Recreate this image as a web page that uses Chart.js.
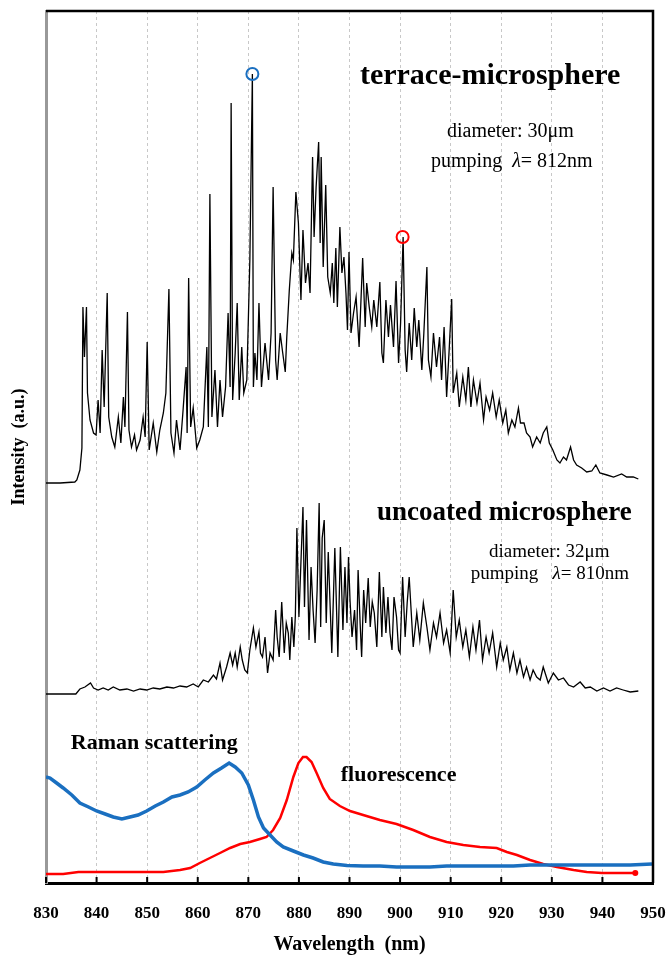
<!DOCTYPE html>
<html lang="en">
<head>
    <meta charset="UTF-8">
    <title>Microsphere emission spectra</title>
    <script src="https://cdn.jsdelivr.net/npm/chart.js@4.4.0/dist/chart.umd.min.js"></script>
    <style>
        body { margin: 0; background: #ffffff; }
    </style>
</head>
<body>

<div style="width: 668px;height: 958px">
    <canvas id="myChart" width="668" height="958"></canvas>
</div>

<script type="text/javascript">

    // wavelength axis (nm)
    var xTicks = [830, 840, 850, 860, 870, 880, 890, 900, 910, 920, 930, 940, 950];

    // terrace-microsphere spectrum (top, offset trace)
    var terraceX = [830.0, 832.8, 835.7, 836.1, 836.7, 837.1, 837.3, 837.6, 838.0, 838.2,
        838.7, 839.4, 839.9, 840.3, 840.7, 841.1, 841.5, 842.1, 842.4, 843.0,
        843.6, 844.3, 844.8, 845.3, 845.6, 846.1, 846.4, 846.9, 847.5, 847.9,
        848.6, 849.2, 849.6, 850.0, 850.4, 851.2, 851.9, 852.5, 853.2, 853.7,
        854.3, 854.7, 855.3, 855.8, 856.5, 857.1, 857.7, 857.9, 858.2, 858.6,
        859.1, 859.8, 860.4, 861.1, 861.8, 862.1, 862.4, 862.8, 863.4, 863.9,
        864.4, 864.9, 865.5, 866.0, 866.4, 866.6, 866.9, 867.4, 867.8, 868.2,
        868.7, 869.1, 869.7, 870.3, 870.8, 871.0, 871.3, 871.7, 872.1, 872.6,
        873.3, 874.0, 874.5, 874.9, 875.4, 875.7, 876.3, 876.8, 877.3, 877.6,
        878.1, 878.6, 878.9, 879.4, 879.9, 880.4, 880.8, 881.3, 881.8, 882.2,
        882.7, 883.0, 883.4, 883.9, 884.2, 884.4, 884.8, 885.3, 885.7, 886.2,
        886.6, 886.9, 887.3, 887.6, 888.1, 888.5, 888.9, 889.3, 889.6, 889.9,
        890.3, 890.8, 891.3, 891.9, 892.6, 893.1, 893.4, 893.9, 894.4, 894.8,
        895.4, 896.0, 896.4, 896.7, 897.2, 897.7, 898.1, 898.7, 899.2, 899.7,
        900.1, 900.6, 901.0, 901.3, 901.8, 902.3, 902.8, 903.3, 903.7, 904.3,
        904.7, 905.3, 905.6, 906.1, 906.6, 907.2, 907.8, 908.2, 908.7, 909.2,
        909.7, 910.2, 910.5, 911.2, 911.7, 912.4, 913.0, 913.5, 914.0, 914.5,
        915.2, 915.8, 916.5, 917.0, 917.7, 918.3, 919.0, 919.6, 920.3, 920.9,
        921.4, 922.1, 922.7, 923.4, 923.8, 924.5, 925.0, 925.7, 926.2, 927.0,
        927.7, 928.3, 929.0, 929.5, 930.2, 931.0, 931.6, 932.3, 932.9, 933.7,
        934.3, 934.9, 935.9, 936.9, 937.9, 938.7, 939.5, 940.9, 942.2, 943.8,
        944.8, 946.1, 947.1];
    var terraceY = [400, 400, 401, 403, 413, 435, 576, 526, 576, 490,
        463, 450, 448, 483, 450, 533, 476, 590, 466, 446,
        436, 466, 440, 486, 456, 571, 453, 436, 448, 433,
        443, 466, 446, 541, 433, 460, 431, 453, 470, 490,
        594, 450, 430, 463, 433, 473, 516, 450, 605, 456,
        475, 435, 443, 456, 536, 456, 689, 466, 513, 456,
        503, 466, 496, 570, 496, 780, 483, 530, 580, 483,
        536, 490, 503, 623, 809, 496, 530, 503, 580, 496,
        540, 503, 550, 696, 523, 503, 550, 530, 511, 546,
        593, 630, 623, 691, 660, 583, 653, 600, 620, 590,
        726, 646, 696, 741, 640, 726, 616, 698, 606, 590,
        620, 580, 635, 576, 656, 610, 626, 590, 553, 631,
        550, 570, 586, 536, 625, 556, 600, 576, 556, 583,
        556, 601, 530, 520, 583, 546, 578, 536, 602, 520,
        560, 646, 533, 511, 560, 523, 575, 536, 563, 513,
        550, 616, 523, 506, 550, 516, 546, 503, 556, 486,
        533, 584, 490, 510, 476, 506, 483, 516, 476, 503,
        480, 500, 463, 486, 473, 490, 466, 483, 460, 473,
        450, 463, 456, 475, 460, 460, 450, 446, 436, 446,
        440, 450, 456, 440, 433, 423, 420, 426, 423, 436,
        423, 418, 415, 411, 412, 418, 410, 408, 406, 409,
        406, 406, 404];

    // uncoated microsphere spectrum (middle trace)
    var uncoatedX = [830.0, 832.8, 835.9, 836.7, 837.7, 838.8, 839.4, 840.3, 841.3, 842.3,
        843.3, 844.6, 846.0, 847.3, 848.6, 849.9, 851.2, 852.5, 853.9, 855.2,
        856.5, 857.8, 859.1, 860.1, 861.1, 862.1, 863.1, 863.7, 864.4, 864.9,
        865.7, 866.4, 866.9, 867.4, 867.8, 868.4, 868.8, 869.3, 869.8, 870.3,
        871.0, 871.5, 872.1, 872.4, 872.8, 873.3, 873.8, 874.3, 874.9, 875.4,
        875.7, 876.1, 876.6, 877.1, 877.5, 877.9, 878.2, 878.6, 879.0, 879.3,
        879.6, 880.0, 880.2, 880.8, 881.1, 881.5, 882.0, 882.4, 882.8, 883.2,
        883.6, 884.0, 884.3, 884.6, 885.0, 885.4, 885.8, 886.2, 886.5, 887.1,
        887.7, 888.2, 888.7, 889.1, 889.5, 889.8, 890.1, 890.5, 891.0, 891.4,
        891.7, 892.1, 892.4, 892.8, 893.2, 893.7, 894.1, 894.5, 894.9, 895.4,
        895.9, 896.4, 896.7, 897.2, 897.6, 898.0, 898.4, 898.8, 899.3, 899.7,
        900.0, 900.5, 901.0, 901.4, 901.8, 902.6, 903.3, 903.9, 904.6, 905.3,
        905.9, 906.6, 907.2, 907.9, 908.6, 909.2, 909.9, 910.5, 911.1, 911.7,
        912.4, 913.0, 913.7, 914.4, 915.0, 915.7, 916.3, 917.0, 917.6, 918.3,
        919.1, 919.8, 920.4, 921.1, 921.7, 922.4, 923.1, 923.7, 924.4, 925.0,
        925.7, 926.3, 927.0, 927.7, 928.3, 929.3, 930.3, 931.3, 932.3, 933.3,
        934.3, 935.6, 936.6, 937.6, 938.9, 940.2, 941.5, 942.8, 944.1, 945.5,
        947.1];
    var uncoatedY = [189, 189, 189, 194, 196, 200, 195, 193, 195, 193,
        196, 193, 194, 192, 194, 193, 195, 194, 196, 195,
        197, 196, 199, 196, 203, 201, 208, 204, 220, 203,
        216, 230, 218, 230, 216, 236, 223, 213, 210, 233,
        255, 236, 251, 230, 226, 246, 210, 230, 223, 273,
        246, 226, 281, 230, 260, 250, 223, 266, 236, 268,
        355, 266, 293, 376, 276, 363, 243, 316, 273, 240,
        293, 380, 256, 345, 363, 260, 331, 273, 230, 335,
        226, 336, 253, 316, 260, 326, 283, 246, 273, 233,
        313, 260, 226, 293, 260, 305, 256, 281, 270, 236,
        311, 246, 296, 250, 286, 250, 233, 286, 266, 233,
        230, 306, 246, 280, 306, 236, 270, 243, 280, 256,
        233, 260, 246, 270, 240, 253, 230, 293, 246, 263,
        236, 253, 226, 256, 233, 263, 223, 246, 230, 250,
        216, 240, 223, 236, 213, 230, 210, 223, 206, 216,
        203, 213, 206, 203, 216, 200, 210, 203, 205, 198,
        196, 201, 195, 196, 192, 195, 192, 195, 193, 191,
        192];

    // Raman scattering (blue)
    var ramanX = [830.0, 830.8, 832.1, 833.4, 835.1, 836.7, 838.4, 840.0, 841.7, 843.3,
        845.0, 846.6, 848.2, 849.9, 851.6, 853.2, 854.9, 856.5, 858.1, 859.8,
        861.4, 863.1, 864.7, 866.2, 867.4, 868.7, 870.0, 871.0, 872.0, 873.0,
        874.3, 875.6, 876.9, 878.9, 880.9, 882.8, 884.8, 886.8, 889.5, 892.7,
        896.0, 899.3, 902.6, 905.9, 909.2, 912.5, 915.8, 919.1, 922.4, 925.7,
        929.0, 932.3, 935.6, 938.9, 942.2, 945.5, 949.8];
    var ramanY = [106, 105, 100, 95, 88, 80, 76, 72, 69, 66,
        64, 66, 68, 72, 77, 81, 86, 88, 91, 96,
        103, 110, 115, 120, 116, 110, 98, 83, 66, 55,
        48, 41, 36, 32, 28, 25, 21, 19, 17.5, 17,
        17, 16, 16, 16, 17, 17, 17, 17, 17, 18,
        18, 18, 18, 18, 18, 18, 19];

    // fluorescence (red)
    var fluoX = [830.0, 833.4, 836.4, 840.0, 846.6, 853.2, 856.5, 858.5, 860.4, 862.4,
        864.4, 866.4, 868.4, 870.3, 872.3, 873.6, 874.9, 876.3, 877.6, 878.9,
        879.9, 880.8, 881.5, 882.5, 883.5, 884.8, 886.1, 888.1, 890.1, 892.7,
        896.0, 899.3, 902.6, 905.9, 909.2, 912.5, 915.8, 919.1, 921.1, 923.1,
        925.7, 928.3, 931.0, 934.3, 936.9, 939.9, 942.8, 946.5];
    var fluoY = [9, 9, 11, 11, 11, 11, 13, 15, 20, 25,
        30, 35, 39, 41, 44, 46, 53, 65, 83, 106,
        120, 126, 126, 121, 110, 95, 84, 77, 72, 68,
        63, 59, 53, 46, 41, 38, 36, 35, 31, 28,
        23, 19, 16, 13, 11, 10, 10, 10];

    // marked modes
    var blueMarkX = [870.8];
    var blueMarkY = [809];
    var redMarkX = [900.5];
    var redMarkY = [646];

    function pts(xs, ys) {
        return xs.map(function (x, i) { return {x: x, y: ys[i]}; });
    }

    var serif = "'Liberation Serif', 'Times New Roman', serif";

    // text notes, placed in data coordinates
    var notes = [
        {x: 917.8, y: 807, parts: [['terrace-microsphere', 'bold 30px']]},
        {x: 921.8, y: 751, parts: [['diameter: 30\u03bcm', '20px']]},
        {x: 922.1, y: 721, parts: [['pumping  ', '20px'], ['\u03bb', 'italic 20px'], ['= 812nm', '20px']]},
        {x: 920.6, y: 370, parts: [['uncoated microsphere', 'bold 27px']]},
        {x: 929.5, y: 331, parts: [['diameter: 32\u03bcm', '19px']]},
        {x: 929.6, y: 309, parts: [['pumping   ', '19px'], ['\u03bb', 'italic 19px'], ['= 810nm', '19px']]},
        {x: 851.4, y: 140, parts: [['Raman scattering', 'bold 22px']]},
        {x: 899.7, y: 108, parts: [['fluorescence', 'bold 22px']]}
    ];

    var framePlugin = {
        id: 'framePlugin',
        afterDatasetsDraw: function (chart) {
            var ctx = chart.ctx, a = chart.chartArea;
            var xs = chart.scales.x, ys = chart.scales.y;
            ctx.save();
            // top and right edges
            ctx.strokeStyle = '#000';
            ctx.lineWidth = 2.5;
            ctx.beginPath();
            ctx.moveTo(a.left, a.top);
            ctx.lineTo(a.right, a.top);
            ctx.lineTo(a.right, a.bottom);
            ctx.stroke();
            // inward ticks on the wavelength axis
            ctx.lineWidth = 2;
            xTicks.forEach(function (v) {
                var px = xs.getPixelForValue(v);
                ctx.beginPath();
                ctx.moveTo(px, a.bottom);
                ctx.lineTo(px, a.bottom - 6);
                ctx.stroke();
            });
            // notes
            ctx.fillStyle = '#000';
            ctx.textBaseline = 'middle';
            ctx.textAlign = 'left';
            notes.forEach(function (n) {
                var w = 0;
                n.parts.forEach(function (p) {
                    ctx.font = p[1] + ' ' + serif;
                    w += ctx.measureText(p[0]).width;
                });
                var cx = xs.getPixelForValue(n.x) - w / 2;
                var cy = ys.getPixelForValue(n.y);
                n.parts.forEach(function (p) {
                    ctx.font = p[1] + ' ' + serif;
                    ctx.fillText(p[0], cx, cy);
                    cx += ctx.measureText(p[0]).width;
                });
            });
            ctx.restore();
        }
    };

    var ctx1 = document.getElementById("myChart");

    new Chart(ctx1, {
        "type": "line",
        "data": {
            "datasets": [{
                "label": "blue mark",
                "data": pts(blueMarkX, blueMarkY),
                "showLine": false,
                "pointRadius": 6,
                "pointBorderWidth": 2,
                "pointBorderColor": "#1a6fc0",
                "pointBackgroundColor": "rgba(0,0,0,0)"
            }, {
                "label": "red mark",
                "data": pts(redMarkX, redMarkY),
                "showLine": false,
                "pointRadius": 6,
                "pointBorderWidth": 2,
                "pointBorderColor": "#ff0000",
                "pointBackgroundColor": "rgba(0,0,0,0)"
            }, {
                "label": "terrace-microsphere",
                "data": pts(terraceX, terraceY),
                "borderColor": "#000000",
                "borderWidth": 1.3,
                "pointRadius": 0
            }, {
                "label": "uncoated microsphere",
                "data": pts(uncoatedX, uncoatedY),
                "borderColor": "#000000",
                "borderWidth": 1.3,
                "pointRadius": 0
            }, {
                "label": "Raman scattering",
                "data": pts(ramanX, ramanY),
                "borderColor": "#1a6fc0",
                "borderWidth": 3.5,
                "pointRadius": 0
            }, {
                "label": "fluorescence",
                "data": pts(fluoX, fluoY),
                "borderColor": "#ff0000",
                "borderWidth": 2.5,
                "pointRadius": function (c) { return c.dataIndex === fluoX.length - 1 ? 3 : 0; },
                "pointBackgroundColor": "#ff0000",
                "pointBorderWidth": 0
            }]
        },
        "options": {
            "responsive": false,
            "animation": false,
            "devicePixelRatio": 1,
            "layout": {"padding": {"top": 11, "right": 15, "left": 0, "bottom": 0}},
            "plugins": {"legend": {"display": false}, "tooltip": {"enabled": false}},
            "elements": {"line": {"tension": 0, "fill": false}},
            "scales": {
                "x": {
                    "type": "linear",
                    "min": 830,
                    "max": 950,
                    "afterFit": function (s) {
                        s.height = 75;
                        s.paddingLeft = 0;
                        s.paddingRight = 0;
                    },
                    "afterBuildTicks": function (s) { s.ticks = xTicks.map(function (v) { return {value: v}; }); },
                    "ticks": {
                        "color": "#000",
                        "padding": 20,
                        "maxRotation": 0,
                        "autoSkip": false,
                        "font": {"family": serif, "size": 17, "weight": "bold"}
                    },
                    "grid": {"color": "#c8c8c8", "lineWidth": 1, "drawTicks": false},
                    "border": {"display": true, "color": "#000", "width": 3, "dash": [3, 3]},
                    "title": {
                        "display": true,
                        "text": "Wavelength  (nm)",
                        "color": "#000",
                        "padding": {"top": 0, "bottom": 1},
                        "font": {"family": serif, "size": 20, "weight": "bold"}
                    }
                },
                "y": {
                    "min": 0,
                    "max": 872,
                    "afterFit": function (s) { s.width = 46; },
                    "ticks": {"display": false},
                    "grid": {"display": false, "drawTicks": false},
                    "border": {"display": true, "color": "#999999", "width": 3},
                    "title": {
                        "display": true,
                        "text": "Intensity  (a.u.)",
                        "color": "#000",
                        "padding": {"top": 9, "bottom": 0},
                        "font": {"family": serif, "size": 18, "weight": "bold"}
                    }
                }
            }
        },
        "plugins": [framePlugin]
    });

</script>

</body>
</html>
